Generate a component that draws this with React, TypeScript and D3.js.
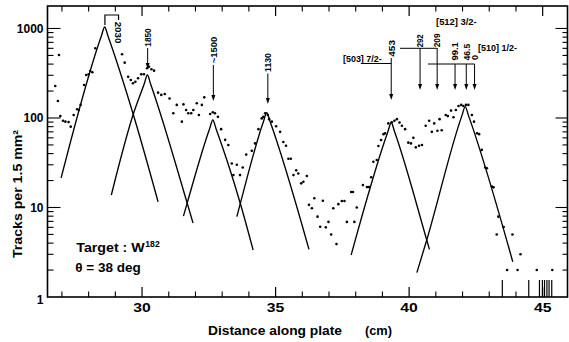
import React from "react";
import * as d3 from "d3";

// ---------- data ----------
const X_DOMAIN: [number, number] = [26.46, 45.93];
const Y_DOMAIN: [number, number] = [1, 1783];

const xMajorTicks = [30, 35, 40, 45];
const xMinorTicks = [27, 28, 29, 31, 32, 33, 34, 36, 37, 38, 39, 41, 42, 43, 44];
const yTickLabels: [number, string][] = [
  [1, "1"],
  [10, "10"],
  [100, "100"],
  [1000, "1000"],
];

// measured points: [distance (cm), tracks per 1.5 mm^2]
const measured: [number, number][] = [
  [26.75, 228], [26.85, 155], [26.89, 506], [26.94, 105], [27.04, 93], [27.13, 91],
  [27.25, 90], [27.33, 80], [27.44, 108], [27.57, 125], [27.63, 123], [27.7, 140],
  [27.83, 234], [27.91, 302], [28.0, 308], [28.06, 335], [28.14, 324], [28.25, 601],
  [29.25, 515], [29.35, 415], [29.48, 289], [29.58, 266], [29.66, 244], [29.75, 254],
  [29.85, 278], [29.97, 308], [30.07, 308], [30.19, 359], [30.26, 374], [30.35, 350],
  [30.45, 338], [30.6, 192], [30.72, 181], [30.85, 185], [31.03, 165], [31.17, 113],
  [31.3, 140], [31.49, 91], [31.55, 142], [31.65, 123], [31.73, 113], [31.84, 113],
  [31.92, 123], [32.05, 146], [32.13, 108], [32.24, 140], [32.33, 170], [32.55, 111],
  [32.65, 116], [32.73, 113], [32.84, 103], [32.96, 75], [33.11, 57], [33.23, 50],
  [33.36, 31], [33.42, 23], [33.55, 30], [33.67, 23], [33.77, 28], [33.9, 39],
  [34.11, 43], [34.23, 52], [34.36, 75], [34.48, 99], [34.54, 103], [34.61, 113],
  [34.71, 108], [34.76, 97], [34.86, 91], [35.02, 81], [35.17, 70], [35.29, 54],
  [35.39, 49], [35.48, 35], [35.57, 35], [35.67, 23], [35.77, 26], [35.85, 24],
  [35.96, 18.6], [36.04, 19.4], [36.17, 22.5], [36.25, 10.7], [36.36, 9.8], [36.45, 12.7],
  [36.57, 7.9], [36.67, 6.1], [36.77, 11.9], [36.88, 6.0], [36.98, 6.9], [37.08, 5.0],
  [37.16, 9.8], [37.28, 3.9], [37.35, 10.9], [37.48, 11.8], [37.58, 11.8], [37.67, 6.9],
  [37.83, 14.9], [37.9, 14.9], [37.95, 6.9], [38.04, 10], [38.27, 17.8], [38.42, 16.9],
  [38.5, 16.9], [38.58, 21.8], [38.66, 32.5], [38.79, 33.9], [38.85, 48.7], [38.95, 56.8],
  [39.04, 66], [39.1, 67.5], [39.22, 87], [39.35, 89.5], [39.45, 93], [39.54, 97],
  [39.64, 89], [39.73, 82], [39.85, 75], [39.97, 53], [40.07, 52], [40.16, 60],
  [40.25, 47], [40.37, 49], [40.48, 50], [40.62, 82], [40.75, 93], [40.85, 70],
  [40.94, 87], [41.06, 72], [41.14, 97], [41.22, 73], [41.37, 108], [41.45, 105],
  [41.57, 121], [41.66, 102], [41.75, 123], [41.85, 136], [41.95, 140], [42.03, 136],
  [42.13, 140], [42.22, 140], [42.35, 108], [42.43, 91], [42.54, 67.5], [42.62, 66],
  [42.72, 44], [42.85, 28], [42.91, 27.4], [43.1, 17.1], [43.16, 16.8], [43.28, 5.0],
  [43.34, 7.9], [43.54, 6.05], [43.67, 2], [43.87, 5], [44.06, 2], [44.17, 3],
  [44.78, 2], [45.36, 2],
];

// single-track markers at the bottom of the plot
const singleTracks = [43.49, 44.48, 44.88, 44.99, 45.07, 45.16, 45.24, 45.34];

// fitted peak shapes: [cm, tracks]
const fit2030: [number, number][] = [[26.97, 21.4], [28.48, 830], [28.6, 1040], [28.72, 830], [29.67, 110], [30.6, 11.6]];
const fit1850: [number, number][] = [[28.85, 13.8], [29.67, 110], [30.08, 240], [30.2, 302], [30.32, 240], [31.69, 11.2], [31.91, 6.7]];
const fit1500: [number, number][] = [[31.55, 8.0], [31.69, 11.2], [32.53, 76], [32.65, 95], [32.77, 76], [33.68, 11.1], [34.16, 3.35]];
const fit1130: [number, number][] = [[33.55, 7.9], [33.68, 11.1], [34.55, 92], [34.67, 115], [34.79, 92], [36.25, 3.41]];
const fit453: [number, number][] = [[37.83, 2.95], [39.21, 71], [39.33, 89], [39.45, 71], [40.66, 4.33], [40.76, 3.41]];
const fit0: [number, number][] = [[40.29, 1.87], [40.66, 4.33], [41.98, 107], [42.1, 134], [42.22, 107], [43.88, 2.48]];
const fits = [fit2030, fit1850, fit1500, fit1130, fit453, fit0];

// level labels with arrows
const arrowLabels = [
  { text: "1850", cm: 30.21, textBottom: 46.7, len: 18.4, lineTop: 48, tip: 69 },
  { text: "~1500", cm: 32.67, textBottom: 63.3, len: 26.6, lineTop: 65, tip: 101 },
  { text: "1130", cm: 34.71, textBottom: 72, len: 19, lineTop: 73.5, tip: 104 },
  { text: "453", cm: 39.33, textBottom: 56.7, len: 16.7, lineTop: 58, tip: 100 },
  { text: "292", cm: 40.41, textBottom: 47.3, len: 13, lineTop: 48, tip: 90 },
  { text: "209", cm: 41.05, textBottom: 47.3, len: 14, lineTop: 48, tip: 90 },
  { text: "99.1", cm: 41.72, textBottom: 60.5, len: 18.3, lineTop: 64, tip: 90 },
  { text: "46.5", cm: 42.14, textBottom: 60.5, len: 16.7, lineTop: 64, tip: 90 },
  { text: "0", cm: 42.45, textBottom: 60, len: 0, lineTop: 64, tip: 90 },
];
const bandLines = [
  { from: 38.2, to: 39.33, y: 63.5 },
  { from: 39.66, to: 41.05, y: 48.3 },
  { from: 40.71, to: 42.45, y: 64 },
];
const bandLabels = [
  { text: "[503] 7/2-", x: 343, y: 61.7, len: 38.7 },
  { text: "[512] 3/2-", x: 436, y: 25, len: 40.7 },
  { text: "[510] 1/2-", x: 478, y: 50.5, len: 39 },
];

const FONT = "'Liberation Sans', Arial, sans-serif";

export default function App() {
  const L = 47.5, R = 567.5, T = 6, B = 297;
  const x = d3.scaleLinear().domain(X_DOMAIN).range([L, R]);
  const y = d3.scaleLog().domain(Y_DOMAIN).range([B, T]);
  const line = d3
    .line<[number, number]>()
    .x((d) => x(d[0]))
    .y((d) => y(d[1]))
    .curve(d3.curveMonotoneX);

  const yTicks = y.ticks().filter((v) => v > 1);
  const isMajor = (v: number) => Math.abs(Math.log10(v) - Math.round(Math.log10(v))) < 1e-9;

  const bx0 = x(28.61), bx1 = x(29.12);

  return (
    <svg
      width={569}
      height={342}
      style={{ position: "absolute", left: 0, top: 0, background: "#fff" }}
      fontFamily={FONT}
    >
      <rect x={0} y={0} width={569} height={342} fill="#fff" />
      {/* frame */}
      <rect x={L} y={T} width={R - L} height={B - T} fill="none" stroke="#000" strokeWidth={1.6} />

      {/* x ticks bottom & top */}
      {xMinorTicks.map((v) => (
        <g key={"xm" + v}>
          <line x1={x(v)} x2={x(v)} y1={B} y2={B - 5.5} stroke="#000" strokeWidth={1.1} />
          <line x1={x(v)} x2={x(v)} y1={T} y2={T + 5.5} stroke="#000" strokeWidth={1.1} />
        </g>
      ))}
      {xMajorTicks.map((v) => (
        <g key={"xM" + v}>
          <line x1={x(v)} x2={x(v)} y1={B} y2={B - 10} stroke="#000" strokeWidth={1.2} />
          <line x1={x(v)} x2={x(v)} y1={T} y2={T + 10} stroke="#000" strokeWidth={1.2} />
          <text
            x={x(v)}
            y={311.7}
            textAnchor="middle"
            fontSize={12.5}
            fontWeight="bold"
            textLength={17.5}
            lengthAdjust="spacingAndGlyphs"
          >
            {v}
          </text>
        </g>
      ))}

      {/* y ticks left & right */}
      {yTicks.map((v) => {
        const len = isMajor(v) ? 13 : 6;
        return (
          <g key={"y" + v}>
            <line x1={L} x2={L + len} y1={y(v)} y2={y(v)} stroke="#000" strokeWidth={1.1} />
            <line x1={R} x2={R - (isMajor(v) ? 12 : 5)} y1={y(v)} y2={y(v)} stroke="#000" strokeWidth={1.1} />
          </g>
        );
      })}
      {yTickLabels.map(([v, s]) => (
        <text key={"yl" + v} x={43.5} y={y(v) + (v === 1 ? 7 : 4.3)} textAnchor="end" fontSize={12} fontWeight="bold">
          {s}
        </text>
      ))}

      {/* axis titles */}
      <text
        transform="translate(22,258) rotate(-90)"
        fontSize={12.5}
        fontWeight="bold"
        textLength={128}
        lengthAdjust="spacingAndGlyphs"
      >
        Tracks per 1.5 mm²
      </text>
      <text x={208} y={335} fontSize={13} fontWeight="bold" textLength={134} lengthAdjust="spacingAndGlyphs">
        Distance along plate
      </text>
      <text x={365} y={335} fontSize={13} fontWeight="bold" textLength={27} lengthAdjust="spacingAndGlyphs">
        (cm)
      </text>

      {/* target info */}
      <text x={76.3} y={252.3} fontSize={13} fontWeight="bold" textLength={68.4} lengthAdjust="spacingAndGlyphs">
        Target : W
      </text>
      <text x={145.3} y={246.5} fontSize={8.5} fontWeight="bold" textLength={14.4} lengthAdjust="spacingAndGlyphs">
        182
      </text>
      <text x={75.3} y={272.3} fontSize={13} fontWeight="bold" textLength={65.4} lengthAdjust="spacingAndGlyphs">
        θ = 38 deg
      </text>

      {/* fitted curves */}
      {fits.map((f, i) => (
        <path key={"f" + i} d={line(f) || ""} fill="none" stroke="#000" strokeWidth={1.35} />
      ))}

      {/* measured points */}
      {measured.map(([cm, v], i) => (
        <circle key={"p" + i} cx={x(cm)} cy={y(v)} r={1.3} fill="#000" />
      ))}

      {/* single track markers */}
      {singleTracks.map((cm, i) => (
        <line key={"s" + i} x1={x(cm)} x2={x(cm)} y1={y(1)} y2={y(1) - 17} stroke="#000" strokeWidth={1.2} />
      ))}

      {/* 2030 bracket */}
      <path d={`M${bx0},25 L${bx0},15 L${bx1},15 L${bx1},20`} fill="none" stroke="#000" strokeWidth={1.2} />
      <text
        transform={`translate(${bx1 - 3.3},21.7) rotate(90)`}
        fontSize={9.5}
        fontWeight="bold"
        textLength={21.6}
        lengthAdjust="spacingAndGlyphs"
      >
        2030
      </text>

      {/* arrows and level labels */}
      {arrowLabels.map((a, i) => {
        const cx = x(a.cm);
        return (
          <g key={"a" + i}>
            <text
              transform={`translate(${cx + 3.3},${a.textBottom}) rotate(-90)`}
              fontSize={9}
              fontWeight="bold"
              {...(a.len > 0 ? { textLength: a.len, lengthAdjust: "spacingAndGlyphs" } : {})}
            >
              {a.text}
            </text>
            <line x1={cx} x2={cx} y1={a.lineTop} y2={a.tip - 4} stroke="#000" strokeWidth={1} />
            <path d={`M${cx - 2},${a.tip - 6} L${cx + 2},${a.tip - 6} L${cx},${a.tip} Z`} fill="#000" />
          </g>
        );
      })}
      {bandLines.map((b, i) => (
        <line key={"b" + i} x1={x(b.from)} x2={x(b.to)} y1={b.y} y2={b.y} stroke="#000" strokeWidth={1} />
      ))}
      {bandLabels.map((b, i) => (
        <text key={"bl" + i} x={b.x} y={b.y} fontSize={8.5} fontWeight="bold" textLength={b.len} lengthAdjust="spacingAndGlyphs">
          {b.text}
        </text>
      ))}
    </svg>
  );
}
